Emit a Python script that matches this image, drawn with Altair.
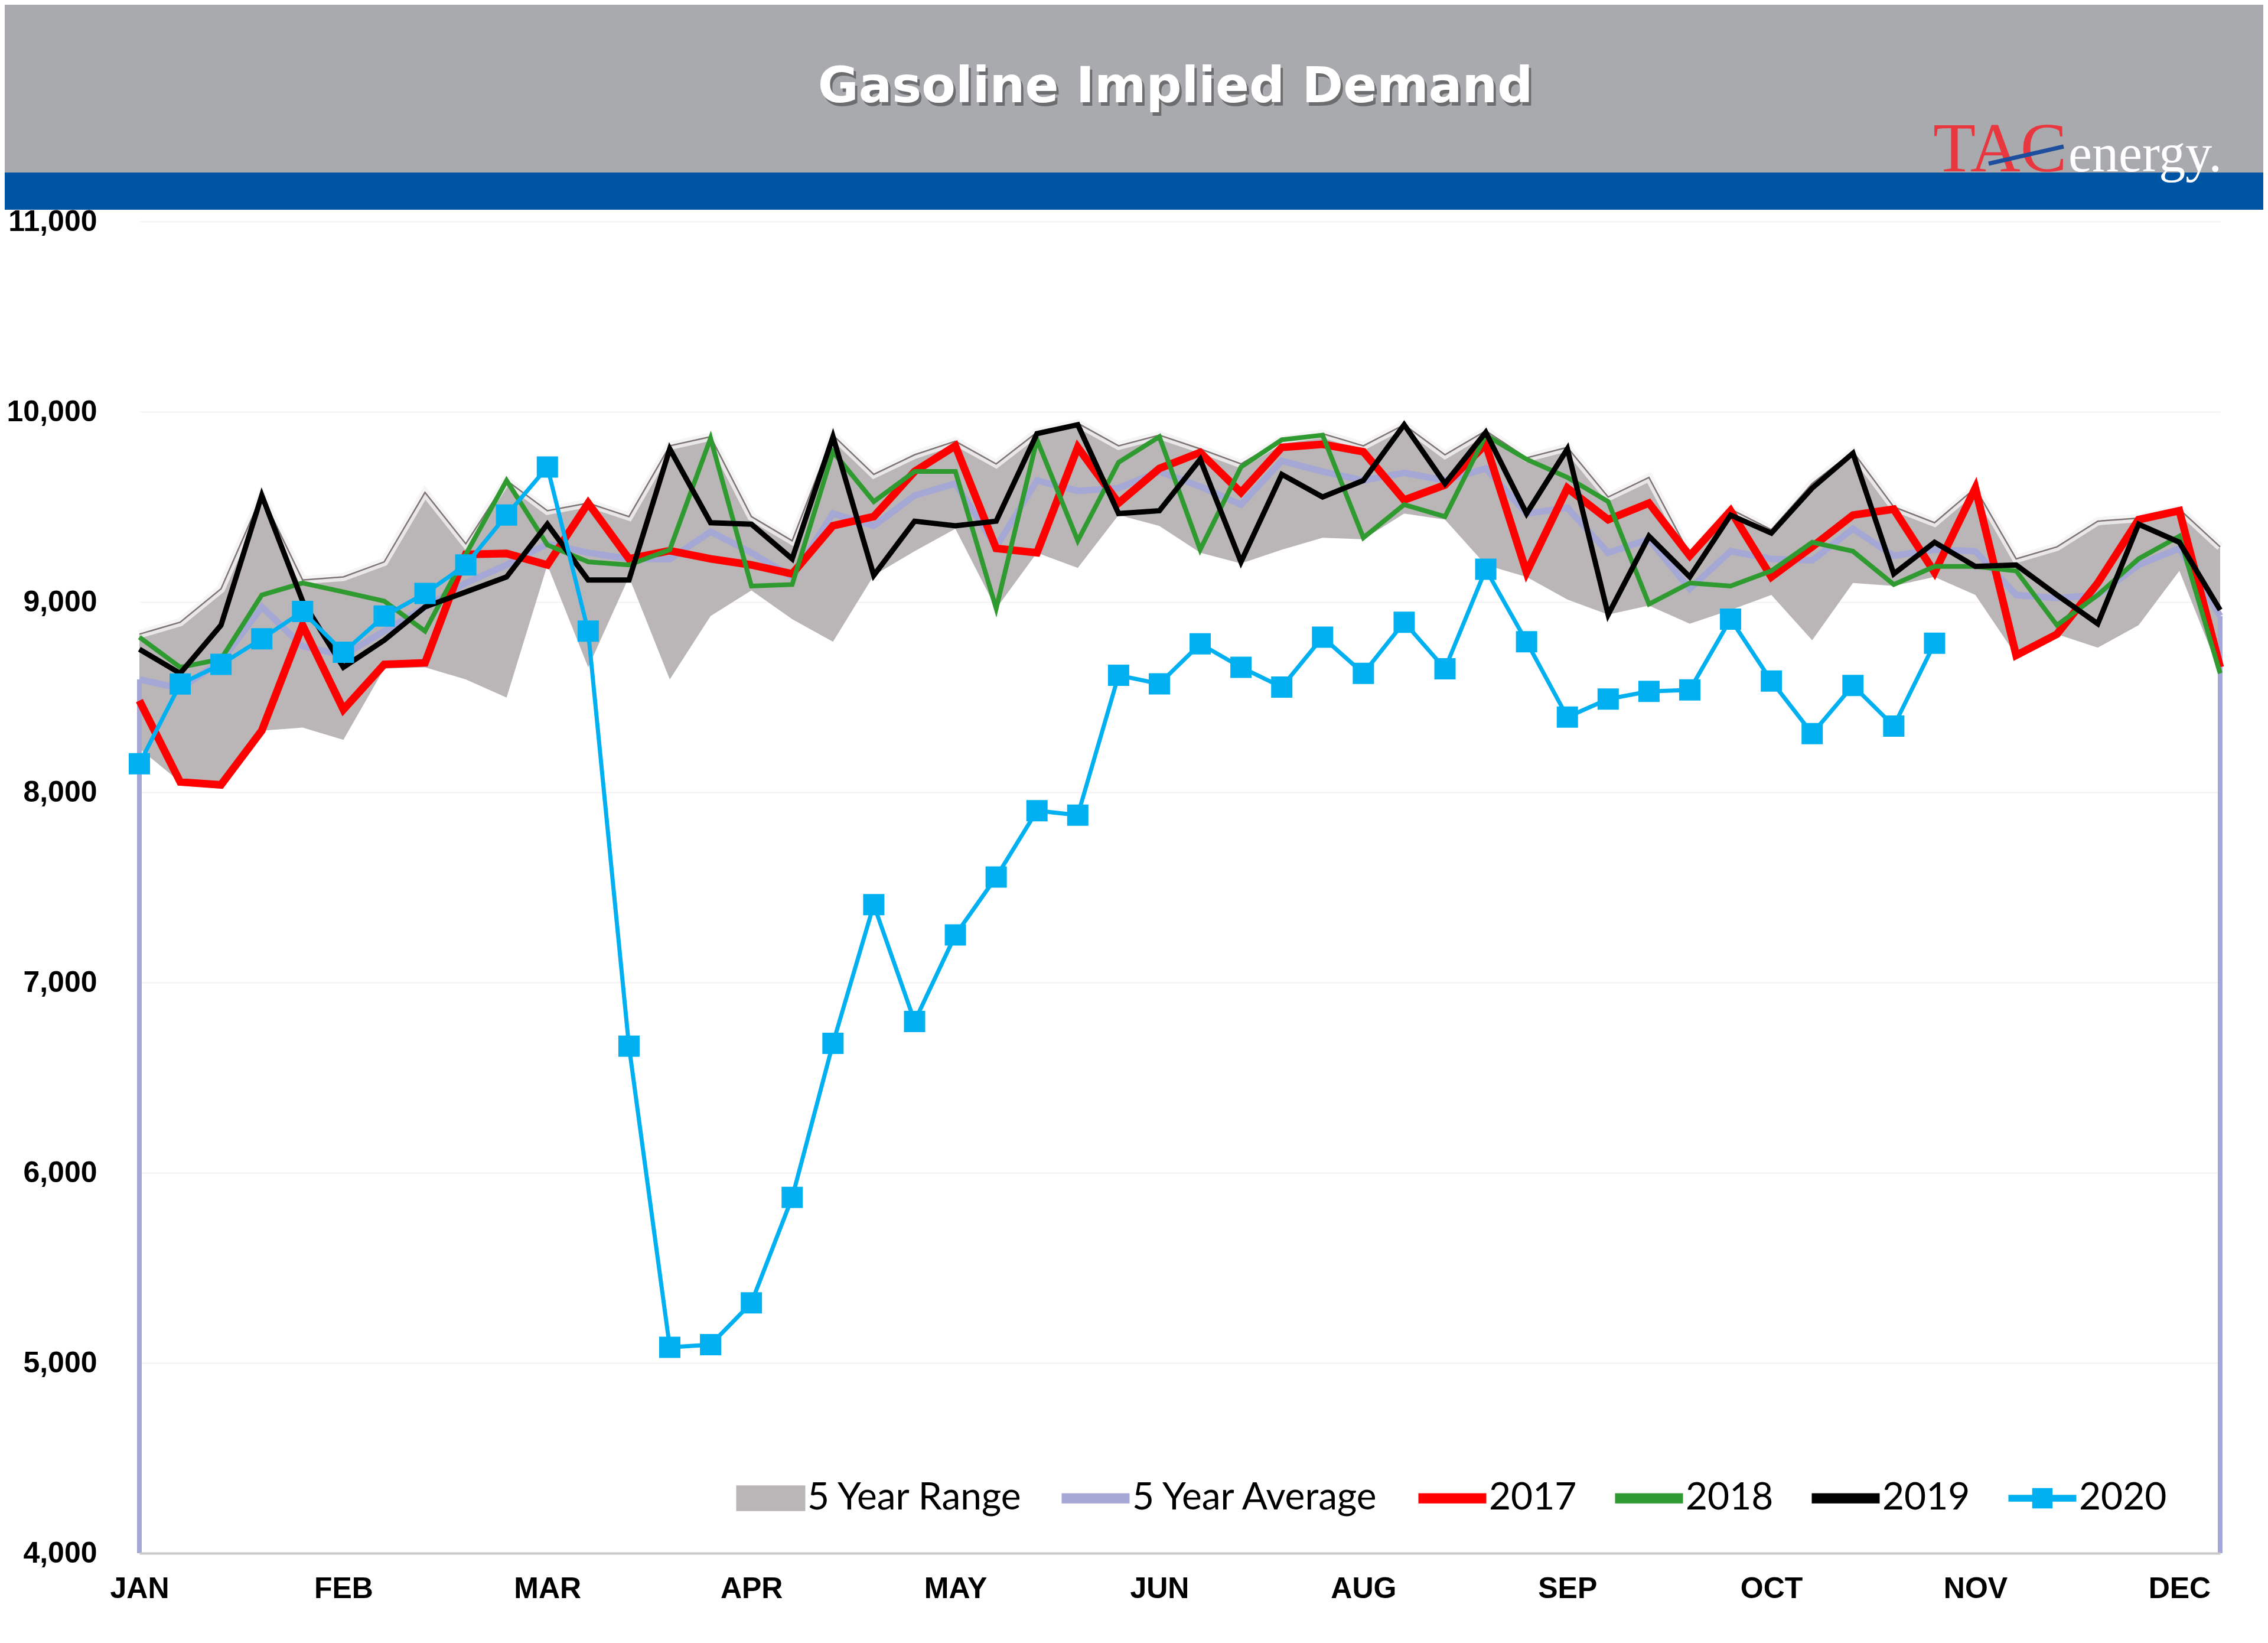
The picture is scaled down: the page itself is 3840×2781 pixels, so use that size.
import json
import altair as alt
import pandas as pd

# ---------------- data ----------------
WEEKS = list(range(52))
X_TICK_WEEKS = [0, 5, 10, 15, 20, 25, 30, 35, 40, 45, 50]
MONTH_LABELS = ["JAN", "FEB", "MAR", "APR", "MAY", "JUN", "AUG", "SEP", "OCT", "NOV", "DEC"]
Y_DOMAIN = [4000, 11000]
Y_TICKS = [4000, 5000, 6000, 7000, 8000, 9000, 10000, 11000]

RANGE_MAX = [8831, 8894, 9069, 9560, 9116, 9132, 9211, 9576, 9306, 9639,
             9480, 9520, 9449, 9821, 9869, 9449, 9322, 9877, 9671, 9774,
             9845, 9726, 9892, 9940, 9821, 9877, 9805, 9726, 9853, 9885,
             9821, 9932, 9774, 9900, 9758, 9813, 9552, 9655, 9250, 9488,
             9380, 9623, 9790, 9500, 9417, 9599, 9227, 9290, 9425, 9441,
             9488, 9290]
RANGE_MIN = [8230, 8054, 8039, 8324, 8340, 8276, 8650, 8657, 8593, 8498,
             9195, 8657, 9132, 8593, 8926, 9061, 8910, 8791, 9140, 9267,
             9385, 8966, 9259, 9179, 9457, 9400, 9259, 9203, 9275, 9338,
             9330, 9465, 9433, 9195, 9132, 9013, 8934, 8981, 8886, 8958,
             9037, 8799, 9100, 9085, 9132, 9037, 8720, 8831, 8760, 8878,
             9164, 8625]
AVG_5Y = [8593, 8546, 8688, 8974, 8768, 8720, 8847, 8974, 9100, 9195,
          9306, 9259, 9227, 9225, 9370, 9259, 9132, 9465, 9401, 9560,
          9623, 9290, 9639, 9584, 9599, 9686, 9607, 9512, 9742, 9686,
          9639, 9679, 9639, 9702, 9465, 9496, 9259, 9330, 9069, 9267,
          9227, 9219, 9385, 9243, 9275, 9267, 9037, 9021, 9037, 9195,
          9282, 8926]
Y2017 = [8482, 8054, 8039, 8324, 8878, 8435, 8672, 8680, 9250, 9255,
         9195, 9520, 9227, 9270, 9227, 9195, 9148, 9401, 9449, 9686,
         9821, 9282, 9259, 9813, 9520, 9702, 9786, 9576, 9813, 9829,
         9790, 9536, 9615, 9829, 9156, 9599, 9433, 9520, 9243, 9480,
         9132, 9290, 9457, 9488, 9156, 9599, 8720, 8831, 9100, 9433,
         9480, 8657]
Y2018 = [8815, 8657, 8700, 9037, 9100, 9053, 9005, 8847, 9250, 9639,
         9300, 9211, 9195, 9275, 9861, 9084, 9092, 9790, 9528, 9686,
         9686, 8966, 9853, 9322, 9734, 9869, 9275, 9710, 9853, 9877,
         9338, 9512, 9449, 9877, 9750, 9655, 9528, 8989, 9100, 9084,
         9164, 9314, 9267, 9092, 9187, 9187, 9164, 8878, 9037, 9227,
         9346, 8625]
Y2019 = [8752, 8625, 8878, 9560, 9005, 8657, 8799, 8974, 9053, 9132,
         9409, 9116, 9116, 9805, 9417, 9409, 9227, 9869, 9140, 9425,
         9401, 9425, 9885, 9932, 9465, 9480, 9750, 9211, 9671, 9552,
         9639, 9932, 9623, 9892, 9465, 9805, 8934, 9346, 9132, 9457,
         9362, 9599, 9782, 9148, 9314, 9187, 9195, 9037, 8886, 9409,
         9314, 8958]
Y2020 = [8150, 8569, 8672, 8807, 8950, 8736, 8926, 9045, 9195, 9457,
         9710, 8847, 6665, 5082, 5096, 5316, 5870, 6680, 7409, 6795,
         7250, 7554, 7903, 7880, 8615, 8570, 8780, 8657, 8553, 8815,
         8625, 8894, 8649, 9172, 8791, 8395, 8490, 8530, 8538, 8910,
         8585, 8308, 8561, 8348, 8783]

SERIES = ["5 Year Range", "5 Year Average", "2017", "2018", "2019", "2020"]
SERIES_COLORS = ["#bab6b7", "#a5a7d5", "#ff0000", "#2f9a2f", "#000000", "#00b0f0"]

TITLE = "Gasoline Implied Demand"

# ---------------- tables ----------------
df = pd.DataFrame({"week": WEEKS, "lo": RANGE_MIN, "hi": RANGE_MAX})
df["series"] = SERIES[0]

parts = []
for name, vals in [(SERIES[1], AVG_5Y), ("2017", Y2017), ("2018", Y2018),
                   ("2019", Y2019), ("2020", Y2020)]:
    parts.append(pd.DataFrame({"week": WEEKS[:len(vals)], "value": vals, "series": name}))
long = pd.concat(parts, ignore_index=True)
one = pd.DataFrame({"k": [0]})

# ---------------- encodings ----------------
X = alt.X(
    "week:Q",
    scale=alt.Scale(domain=[WEEKS[0], WEEKS[-1]], nice=False, zero=False),
    axis=alt.Axis(
        values=X_TICK_WEEKS,
        labelExpr=f"{json.dumps(MONTH_LABELS)}[indexof({json.dumps(X_TICK_WEEKS)}, datum.value)]",
        title=None, grid=False, ticks=False, labelFlush=False,
        labelFont="Liberation Sans", labelFontWeight="bold", labelFontSize=50,
        labelColor="#000000", labelPadding=35,
        domain=True, domainColor="#c9c9c9", domainWidth=4, zindex=1,
    ),
)

YSCALE = alt.Scale(domain=Y_DOMAIN, nice=False, zero=False)
YAXIS = alt.Axis(
    values=Y_TICKS, format=",d", title=None, ticks=False, domain=False,
    labelFont="Liberation Sans", labelFontWeight="bold", labelFontSize=50,
    labelColor="#000000", labelPadding=72,
    grid=True, gridColor="#f2f2f2", gridWidth=2,
)


def yenc(field):
    return alt.Y(f"{field}:Q", scale=YSCALE, axis=YAXIS)


SHAPE_EXPR = (
    "datum.value === '5 Year Range' ? 'M-1,-0.36H1V0.36H-1Z' : "
    "datum.value === '2020' ? 'M-1,-0.1H1V0.1H-1Z M-0.3,-0.3H0.3V0.3H-0.3Z' : "
    "'M-1,-0.15H1V0.15H-1Z'"
)

legend = alt.Legend(
    title=None, orient="none", legendX=1037, legendY=2129, direction="horizontal",
    labelFont="Lato", labelFontSize=64, labelColor="#000000", labelOffset=30,
    columnPadding=64, padding=0, symbolSize=13225, labelLimit=1000,
    symbolType=alt.ExprRef(expr=SHAPE_EXPR),
    symbolFillColor=alt.ExprRef(expr="scale('color', datum.value)"),
    symbolStrokeColor=alt.ExprRef(
        expr="datum.value === '5 Year Range' ? '#8d8888' : scale('color', datum.value)"),
    symbolStrokeWidth=alt.ExprRef(expr="datum.value === '5 Year Range' ? 2 : 0"),
    symbolOpacity=1,
)

COLOR = alt.Color("series:N", scale=alt.Scale(domain=SERIES, range=SERIES_COLORS),
                  legend=legend)


def series_chart(name):
    return alt.Chart(long).transform_filter(alt.datum.series == name)


# ---------------- data layers ----------------
range_area = alt.Chart(df).mark_area(opacity=1).encode(
    x=X, y=yenc("hi"), y2="lo:Q", color=COLOR)
range_glow = alt.Chart(df).mark_line(color="#f4f2f2", strokeWidth=14, opacity=0.8).encode(
    x=X, y=yenc("hi"))
range_edge = alt.Chart(df).mark_line(color="#7e7474", strokeWidth=2.5).encode(
    x=X, y=yenc("hi"))

avg_line = series_chart(SERIES[1]).mark_line(strokeWidth=11).encode(
    x=X, y=yenc("value"), color=COLOR)
avg_ends = series_chart(SERIES[1]).transform_filter(
    f"datum.week == {WEEKS[0]} || datum.week == {WEEKS[-1]}"
).mark_rule(color=SERIES_COLORS[1], strokeWidth=8).encode(
    x=X, y=yenc("value"), y2=alt.datum(Y_DOMAIN[0]))

l2017 = series_chart("2017").mark_line(strokeWidth=13).encode(x=X, y=yenc("value"), color=COLOR)
l2018 = series_chart("2018").mark_line(strokeWidth=8).encode(x=X, y=yenc("value"), color=COLOR)
l2019 = series_chart("2019").mark_line(strokeWidth=9).encode(x=X, y=yenc("value"), color=COLOR)
l2020 = series_chart("2020").mark_line(strokeWidth=7).encode(x=X, y=yenc("value"), color=COLOR)
p2020 = series_chart("2020").mark_point(shape="square", filled=True, size=1296, opacity=1).encode(
    x=X, y=yenc("value"), color=COLOR)

# ---------------- header decoration ----------------
gray_band = alt.Chart(one).mark_rect(color="#a8aaad").encode(
    x=alt.value(-228), x2=alt.value(3596), y=alt.value(-367), y2=alt.value(-83))
blue_band = alt.Chart(one).mark_rect(color="#0054a4").encode(
    x=alt.value(-228), x2=alt.value(3596), y=alt.value(-83), y2=alt.value(-20))
title_shadow = alt.Chart(one).mark_text(
    text=TITLE, font="DejaVu Sans", fontWeight="bold", fontSize=84,
    color="#3c3c3c", opacity=0.55, align="center", baseline="middle",
).encode(x=alt.value(1758), y=alt.value(-221))
title_text = alt.Chart(one).mark_text(
    text=TITLE, font="DejaVu Sans", fontWeight="bold", fontSize=84,
    color="#ffffff", align="center", baseline="middle",
).encode(x=alt.value(1754), y=alt.value(-227))
logo_tac = alt.Chart(one).mark_text(
    text="TAC", font="Liberation Serif", fontSize=118, color="#e8373e",
    align="left", baseline="alphabetic",
).encode(x=alt.value(3037), y=alt.value(-85))
logo_energy = alt.Chart(one).mark_text(
    text="energy.", font="Liberation Serif", fontSize=90, color="#ffffff",
    align="left", baseline="alphabetic",
).encode(x=alt.value(3266), y=alt.value(-85))
logo_slash = alt.Chart(one).mark_rule(color="#1d4f9e", strokeWidth=7).encode(
    x=alt.value(3131), y=alt.value(-98), x2=alt.value(3258), y2=alt.value(-127))

chart = alt.layer(
    gray_band, blue_band, title_shadow, title_text, logo_tac, logo_energy, logo_slash,
    range_area, range_glow, range_edge, avg_line, avg_ends,
    l2017, l2018, l2019, l2020, p2020,
).properties(
    width=3523, height=2254, padding=0, background="#ffffff",
).configure_view(stroke=None)

chart.save("out.html", embed_options={"renderer": "svg", "actions": False})
